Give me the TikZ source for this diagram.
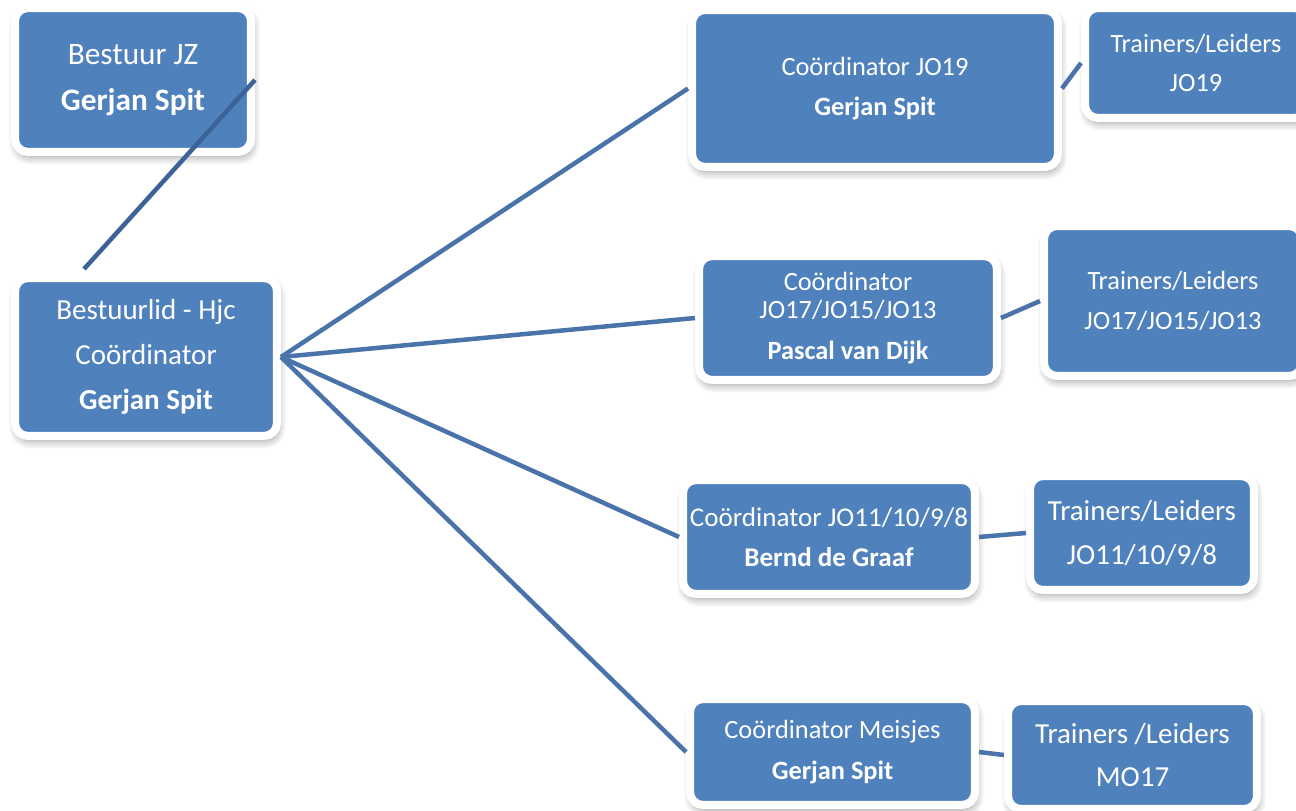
\documentclass[tikz,border=0pt]{standalone}
\usepackage{fontspec}
\setmainfont{Carlito}
\usetikzlibrary{calc,shadows.blur}
\definecolor{boxblue}{HTML}{4F81BD}
\definecolor{lineblue}{HTML}{4A74A9}
\definecolor{darkline}{HTML}{3B6397}
\tikzset{
	orgbox/.style={rectangle,rounded corners=0.26cm,fill=boxblue,draw=white,
		line width=0.16cm,text=white,align=center,inner sep=0pt,
		blur shadow={shadow xshift=0.03cm,shadow yshift=-0.1cm,
			shadow blur radius=0.16cm,shadow opacity=40,shadow blur steps=8}},
	smalltxt/.style={font=\fontsize{15}{22.7}\selectfont},
	bigtxt/.style={font=\fontsize{16.5}{25.5}\selectfont},
	link/.style={line width=0.09cm,lineblue}
}

\begin{document}
\begin{tikzpicture}[x=0.02cm,y=-0.02cm]
	\clip (0,0) rectangle (1296,811);
	% left column
	\node[orgbox,minimum width=4.72cm,minimum height=2.88cm,
		font=\fontsize{17.8}{26}\selectfont] (bestuur) at (133,80)
		{Bestuur JZ\\\textbf{Gerjan Spit}};
	\node[orgbox,bigtxt,minimum width=5.24cm,minimum height=3.16cm] (bestuurlid) at (146,357)
		{Bestuurlid - Hjc\\Coördinator\\\textbf{Gerjan Spit}};
	% coordinators
	\node[orgbox,smalltxt,minimum width=7.32cm,minimum height=3.14cm] (jo19) at (875,88.5)
		{Coördinator JO19\\\textbf{Gerjan Spit}};
	\node[orgbox,smalltxt,minimum width=5.96cm,minimum height=2.48cm] (jo17) at (848,318)
		{Coördinator\\[-6.3pt]JO17/JO15/JO13\\[0.5pt]\textbf{Pascal van Dijk}};
	\node[orgbox,font=\fontsize{15.4}{22.7}\selectfont,minimum width=5.84cm,
		minimum height=2.28cm] (jo11) at (829,537)
		{Coördinator JO11/10/9/8\\\textbf{Bernd de Graaf}};
	\node[orgbox,font=\fontsize{15}{23.2}\selectfont,minimum width=5.70cm,
		minimum height=2.12cm] (meisjes) at (832.5,752)
		{Coördinator Meisjes\\\textbf{Gerjan Spit}};
	% trainers
	\node[orgbox,smalltxt,minimum width=4.44cm,minimum height=2.20cm] (tjo19) at (1196,63)
		{Trainers/Leiders\\JO19};
	\node[orgbox,smalltxt,minimum width=5.16cm,minimum height=3.00cm] (tjo17) at (1173,301)
		{Trainers/Leiders\\JO17/JO15/JO13};
	\node[orgbox,bigtxt,minimum width=4.48cm,minimum height=2.28cm] (tjo11) at (1142,533)
		{Trainers/Leiders\\JO11/10/9/8};
	\node[orgbox,font=\fontsize{16.5}{25}\selectfont,minimum width=4.98cm,
		minimum height=2.16cm] (tmo17) at (1132.5,755)
		{Trainers /Leiders\\MO17};
	% connectors
	\foreach \C in {jo19,jo17,jo11,meisjes}
	{\draw[link] (bestuurlid.east) -- (\C.west);}
	\foreach \C/\T in {jo19/tjo19,jo17/tjo17,jo11/tjo11,meisjes/tmo17}
	{\draw[link] (\C.east) -- (\T.west);}
	\draw[link,darkline] (bestuur.east) -- ([xshift=-1.24cm,yshift=0.1cm]bestuurlid.north);
\end{tikzpicture}
\end{document}
